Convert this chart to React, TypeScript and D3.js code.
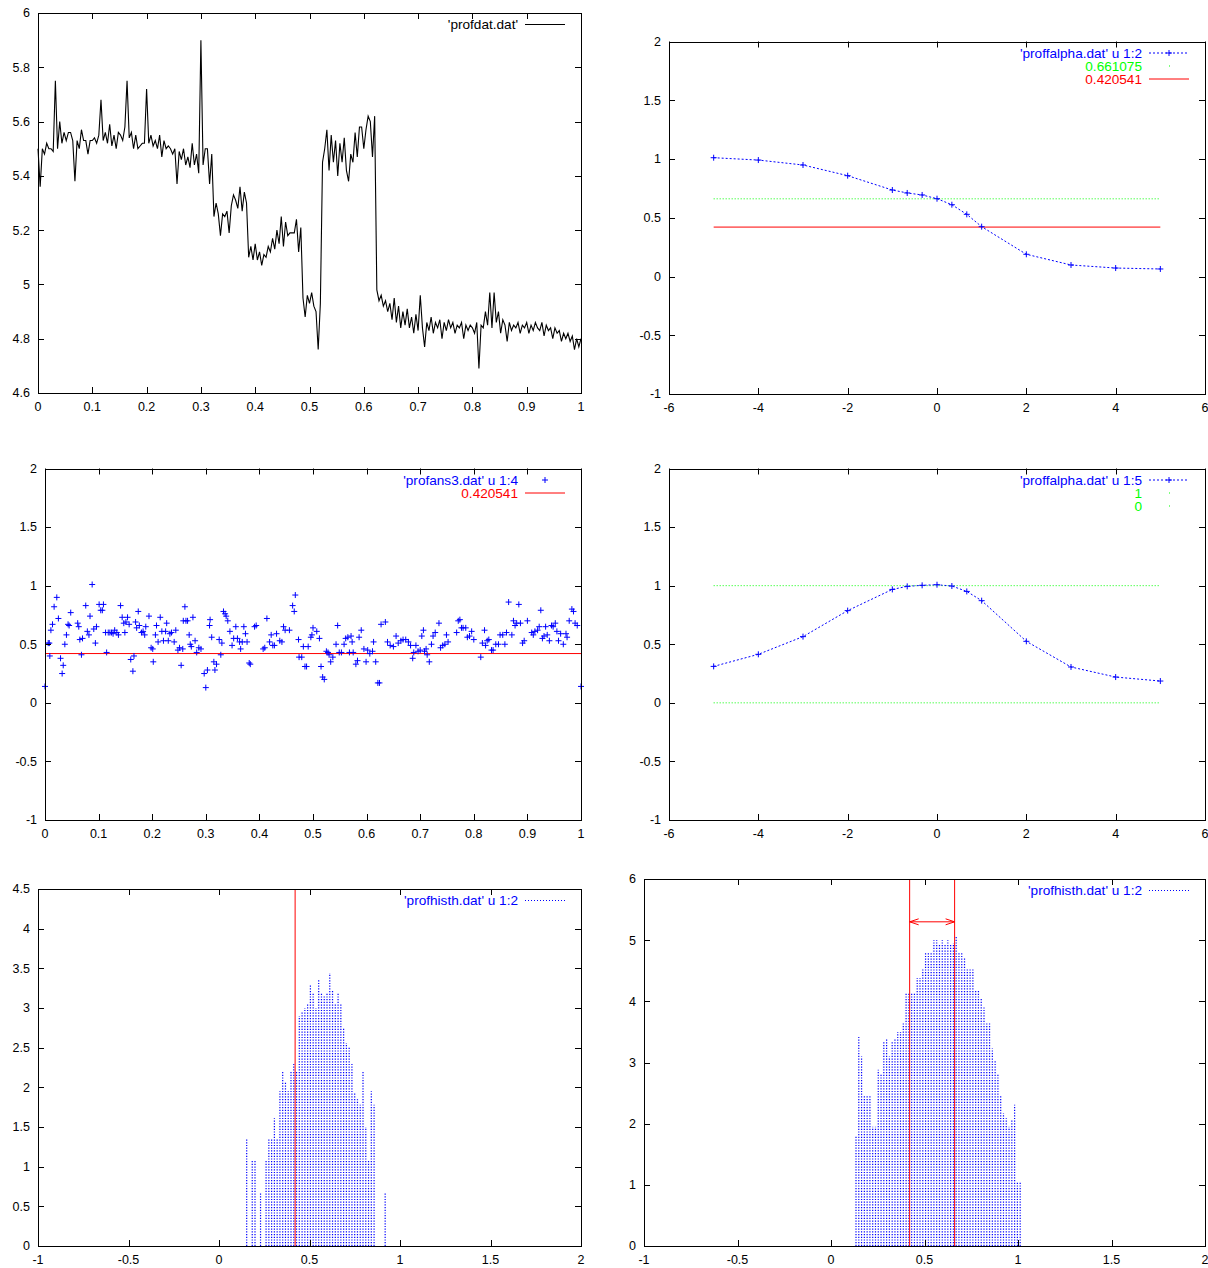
import React from 'react';
import * as d3 from 'd3';

const W = 1208;
const H = 1268;
const FONT = '"Liberation Sans", Arial, Helvetica, sans-serif';
const BLUE = '#0000ff';
const GREEN = '#00ff00';
const RED = '#ff0000';

// ---------- profdat.dat : signal sampled every 0.004 on [0, 1] ----------
const PROF_STEP = 0.004;
const profdat = [
  5.50, 5.36, 5.50, 5.48, 5.52, 5.50, 5.50, 5.49, 5.75, 5.50, 5.60, 5.52, 5.56, 5.53, 5.56, 5.56, 5.53, 5.38, 5.53, 5.50, 5.57, 5.53, 5.53, 5.48, 5.53,
  5.53, 5.54, 5.52, 5.55, 5.68, 5.53, 5.56, 5.52, 5.59, 5.51, 5.55, 5.50, 5.56, 5.55, 5.53, 5.58, 5.75, 5.54, 5.56, 5.50, 5.55, 5.50, 5.51, 5.52, 5.52,
  5.72, 5.52, 5.55, 5.51, 5.53, 5.50, 5.55, 5.47, 5.53, 5.50, 5.51, 5.50, 5.48, 5.50, 5.37, 5.49, 5.46, 5.50, 5.44, 5.47, 5.43, 5.52, 5.44, 5.48, 5.41,
  5.90, 5.44, 5.50, 5.50, 5.37, 5.48, 5.25, 5.30, 5.26, 5.18, 5.26, 5.25, 5.27, 5.19, 5.29, 5.33, 5.31, 5.28, 5.36, 5.27, 5.34, 5.30, 5.10, 5.14, 5.09,
  5.15, 5.09, 5.12, 5.07, 5.11, 5.10, 5.14, 5.12, 5.17, 5.13, 5.20, 5.15, 5.25, 5.14, 5.23, 5.18, 5.19, 5.19, 5.19, 5.24, 5.12, 5.21, 4.95, 4.88, 4.96,
  4.93, 4.97, 4.92, 4.90, 4.76, 4.93, 5.45, 5.50, 5.57, 5.42, 5.55, 5.45, 5.53, 5.40, 5.52, 5.45, 5.54, 5.42, 5.38, 5.48, 5.45, 5.56, 5.47, 5.58, 5.58,
  5.50, 5.57, 5.62, 5.60, 5.47, 5.62, 4.98, 4.94, 4.96, 4.92, 4.94, 4.90, 4.93, 4.87, 4.95, 4.86, 4.92, 4.84, 4.90, 4.85, 4.91, 4.84, 4.88, 4.82, 4.89,
  4.83, 4.96, 4.84, 4.77, 4.86, 4.83, 4.88, 4.82, 4.86, 4.84, 4.87, 4.80, 4.86, 4.83, 4.87, 4.84, 4.86, 4.82, 4.85, 4.84, 4.86, 4.80, 4.85, 4.83, 4.85,
  4.84, 4.82, 4.86, 4.69, 4.85, 4.84, 4.90, 4.85, 4.97, 4.84, 4.97, 4.86, 4.90, 4.82, 4.87, 4.85, 4.79, 4.86, 4.83, 4.85, 4.84, 4.86, 4.82, 4.85, 4.84,
  4.86, 4.82, 4.85, 4.83, 4.86, 4.84, 4.83, 4.86, 4.81, 4.85, 4.83, 4.84, 4.80, 4.84, 4.82, 4.83, 4.79, 4.82, 4.80, 4.82, 4.79, 4.81, 4.76, 4.80, 4.77,
  4.80,
];

// ---------- proffalpha.dat ----------
const alphaX = [-5, -4, -3, -2, -1, -0.667, -0.333, 0, 0.333, 0.667, 1, 2, 3, 4, 5];
const alphaCol2 = [1.011, 0.991, 0.949, 0.858, 0.736, 0.711, 0.694, 0.662, 0.611, 0.529, 0.424, 0.189, 0.098, 0.072, 0.064];
const alphaCol5 = [0.311, 0.414, 0.565, 0.787, 0.968, 0.994, 1.003, 1.008, 0.997, 0.951, 0.872, 0.525, 0.306, 0.220, 0.186];
const LEVEL_HI = 0.661075;
const LEVEL_LO = 0.420541;

// ---------- profans3.dat u 1:4 ----------
const profans3: [number, number][] = [
  [0.0, 0.14], [0.006, 0.51], [0.008, 0.51], [0.009, 0.40], [0.011, 0.62], [0.014, 0.67], [0.017, 0.82], [0.022, 0.90],
  [0.025, 0.72], [0.029, 0.38], [0.032, 0.25], [0.034, 0.32], [0.037, 0.50], [0.040, 0.58], [0.043, 0.67], [0.045, 0.66],
  [0.048, 0.77], [0.061, 0.68], [0.063, 0.65], [0.065, 0.54], [0.068, 0.41], [0.070, 0.55], [0.076, 0.83], [0.079, 0.61],
  [0.082, 0.58], [0.084, 0.74], [0.088, 1.01], [0.091, 0.63], [0.094, 0.51], [0.096, 0.65], [0.101, 0.84], [0.104, 0.79],
  [0.107, 0.79], [0.109, 0.84], [0.113, 0.60], [0.115, 0.43], [0.118, 0.60], [0.121, 0.60], [0.124, 0.60], [0.127, 0.59],
  [0.130, 0.62], [0.134, 0.60], [0.137, 0.58], [0.141, 0.83], [0.144, 0.73], [0.147, 0.68], [0.149, 0.60], [0.151, 0.69],
  [0.154, 0.73], [0.157, 0.67], [0.160, 0.37], [0.164, 0.27], [0.166, 0.40], [0.169, 0.69], [0.171, 0.64], [0.174, 0.78],
  [0.176, 0.66], [0.180, 0.60], [0.183, 0.61], [0.186, 0.58], [0.188, 0.65], [0.194, 0.74], [0.198, 0.47], [0.201, 0.46],
  [0.202, 0.35], [0.206, 0.58], [0.208, 0.66], [0.211, 0.52], [0.215, 0.73], [0.218, 0.61], [0.221, 0.53], [0.225, 0.61],
  [0.227, 0.68], [0.230, 0.53], [0.233, 0.59], [0.236, 0.60], [0.241, 0.52], [0.244, 0.62], [0.248, 0.45], [0.251, 0.47],
  [0.254, 0.32], [0.257, 0.46], [0.258, 0.70], [0.261, 0.82], [0.263, 0.70], [0.266, 0.70], [0.269, 0.58], [0.271, 0.50],
  [0.273, 0.48], [0.276, 0.73], [0.280, 0.53], [0.283, 0.43], [0.287, 0.47], [0.291, 0.46], [0.297, 0.25], [0.300, 0.13],
  [0.303, 0.28], [0.307, 0.66], [0.308, 0.71], [0.311, 0.56], [0.315, 0.35], [0.317, 0.28], [0.320, 0.33], [0.325, 0.54],
  [0.328, 0.41], [0.330, 0.51], [0.333, 0.78], [0.336, 0.76], [0.338, 0.74], [0.341, 0.70], [0.345, 0.61], [0.349, 0.49],
  [0.352, 0.55], [0.356, 0.65], [0.359, 0.55], [0.363, 0.52], [0.365, 0.46], [0.368, 0.52], [0.371, 0.65], [0.374, 0.59],
  [0.377, 0.52], [0.381, 0.34], [0.383, 0.33], [0.391, 0.65], [0.394, 0.66], [0.407, 0.46], [0.410, 0.47], [0.414, 0.72],
  [0.419, 0.52], [0.422, 0.58], [0.425, 0.49], [0.428, 0.49], [0.432, 0.59], [0.438, 0.53], [0.442, 0.52], [0.445, 0.65],
  [0.448, 0.62], [0.456, 0.62], [0.462, 0.83], [0.465, 0.78], [0.467, 0.92], [0.473, 0.54], [0.474, 0.39], [0.479, 0.39],
  [0.482, 0.48], [0.485, 0.31], [0.488, 0.31], [0.491, 0.48], [0.496, 0.56], [0.498, 0.58], [0.500, 0.64], [0.507, 0.61],
  [0.512, 0.55], [0.515, 0.31], [0.518, 0.22], [0.521, 0.20], [0.525, 0.44], [0.528, 0.43], [0.530, 0.41], [0.533, 0.35],
  [0.537, 0.39], [0.543, 0.50], [0.546, 0.66], [0.549, 0.43], [0.553, 0.43], [0.558, 0.50], [0.561, 0.55], [0.565, 0.56],
  [0.568, 0.43], [0.571, 0.57], [0.573, 0.52], [0.575, 0.43], [0.580, 0.33], [0.583, 0.36], [0.586, 0.56], [0.590, 0.62],
  [0.595, 0.46], [0.599, 0.35], [0.602, 0.45], [0.606, 0.42], [0.611, 0.44], [0.613, 0.52], [0.617, 0.35], [0.621, 0.17],
  [0.624, 0.17], [0.627, 0.67], [0.635, 0.69], [0.639, 0.52], [0.644, 0.49], [0.650, 0.48], [0.655, 0.57], [0.659, 0.51],
  [0.664, 0.53], [0.668, 0.54], [0.673, 0.54], [0.678, 0.52], [0.682, 0.49], [0.686, 0.38], [0.688, 0.43], [0.692, 0.49],
  [0.696, 0.44], [0.700, 0.45], [0.703, 0.57], [0.706, 0.62], [0.708, 0.44], [0.711, 0.46], [0.713, 0.41], [0.717, 0.35],
  [0.721, 0.50], [0.724, 0.57], [0.728, 0.60], [0.735, 0.68], [0.738, 0.47], [0.742, 0.49], [0.746, 0.50], [0.749, 0.58],
  [0.752, 0.52], [0.768, 0.60], [0.771, 0.70], [0.774, 0.71], [0.777, 0.64], [0.780, 0.64], [0.785, 0.64], [0.788, 0.56],
  [0.792, 0.57], [0.796, 0.61], [0.800, 0.54], [0.813, 0.39], [0.816, 0.51], [0.820, 0.62], [0.822, 0.49], [0.825, 0.53],
  [0.828, 0.54], [0.833, 0.45], [0.836, 0.45], [0.841, 0.50], [0.846, 0.50], [0.849, 0.58], [0.854, 0.58], [0.858, 0.50],
  [0.861, 0.60], [0.865, 0.86], [0.871, 0.58], [0.874, 0.70], [0.877, 0.66], [0.880, 0.68], [0.884, 0.84], [0.887, 0.68],
  [0.891, 0.51], [0.894, 0.53], [0.900, 0.70], [0.908, 0.60], [0.911, 0.58], [0.914, 0.61], [0.919, 0.62], [0.922, 0.65],
  [0.925, 0.79], [0.928, 0.55], [0.931, 0.57], [0.934, 0.65], [0.937, 0.58], [0.941, 0.53], [0.945, 0.66], [0.948, 0.65],
  [0.952, 0.68], [0.955, 0.61], [0.958, 0.53], [0.962, 0.59], [0.967, 0.50], [0.972, 0.59], [0.974, 0.56], [0.978, 0.70],
  [0.983, 0.80], [0.986, 0.78], [0.989, 0.68], [0.993, 0.66], [1.0, 0.14],
];

// ---------- profhisth.dat u 1:2 (two runs) ----------
const HIST_A_START = 0.153;
const HIST_A_BIN = 0.0153;
const histA = [
  1.36, 0, 1.09, 1.09, 0, 0.67, 0, 1.09, 1.36, 1.36, 1.61, 1.36, 1.95, 2.2, 2.06, 1.95, 2.2, 2.31, 2.2, 2.9,
  2.95, 3.0, 3.05, 3.29, 3.2, 3.0, 3.37, 3.2, 3.15, 3.2, 3.44, 3.22, 3.06, 3.2, 3.06, 2.75, 2.56, 2.5, 2.3, 1.93,
  1.85, 1.78, 2.2, 1.5, 1.09, 1.95, 1.78, 0, 0, 0, 0.67,
];
const HIST_B_START = 0.1337;
const HIST_B_BIN = 0.01488;
const histB = [
  1.79, 3.42, 3.1, 2.47, 2.47, 2.47, 1.95, 1.95, 2.88, 2.82, 3.33, 3.4, 3.1, 3.33, 3.4, 3.5, 3.5, 3.64, 4.13, 4.13,
  4.13, 4.15, 4.38, 4.38, 4.54, 4.81, 4.81, 4.81, 5.0, 5.0, 4.92, 5.0, 4.92, 5.0, 4.92, 4.95, 5.07, 4.81, 4.81, 4.7,
  4.54, 4.54, 4.54, 4.18, 4.18, 4.05, 3.9, 3.64, 3.64, 3.23, 3.04, 2.82, 2.47, 2.17, 2.09, 1.95, 2.06, 2.31, 1.05, 1.05,
];
const ARROW_Y = 5.3;

// ---------- tick values ----------
const ticksUnit = [0, 0.1, 0.2, 0.3, 0.4, 0.5, 0.6, 0.7, 0.8, 0.9, 1];
const ticksProf = [4.6, 4.8, 5, 5.2, 5.4, 5.6, 5.8, 6];
const ticksAlphaX = [-6, -4, -2, 0, 2, 4, 6];
const ticksAlphaY = [-1, -0.5, 0, 0.5, 1, 1.5, 2];
const ticksHistX = [-1, -0.5, 0, 0.5, 1, 1.5, 2];
const ticksHistAY = [0, 0.5, 1, 1.5, 2, 2.5, 3, 3.5, 4, 4.5];
const ticksHistBY = [0, 1, 2, 3, 4, 5, 6];

type Box = { left: number; right: number; top: number; bottom: number };

const P1: Box = { left: 38, right: 581, top: 13, bottom: 393 };
const P2: Box = { left: 669, right: 1205, top: 41.5, bottom: 394 };
const P3: Box = { left: 45, right: 581, top: 468.5, bottom: 820 };
const P4: Box = { left: 669, right: 1205, top: 468.5, bottom: 820 };
const P5: Box = { left: 38, right: 581, top: 889, bottom: 1246 };
const P6: Box = { left: 644, right: 1205, top: 879, bottom: 1246 };

const fmt = (v: number) => String(+v.toFixed(6));
const crisp = (v: number) => Math.round(v) + 0.5;

function scales(box: Box, xd: [number, number], yd: [number, number]) {
  const x = d3.scaleLinear().domain(xd).range([box.left, box.right]);
  const y = d3.scaleLinear().domain(yd).range([box.bottom, box.top]);
  return { x, y };
}

function Frame({ box, x, y, xTicks, yTicks }: any) {
  const tl = 6;
  return (
    <g fontFamily={FONT} fontSize={12.5} fill="#000">
      {xTicks.map((t: number) => {
        const px = crisp(x(t));
        return (
          <g key={'x' + t}>
            <line x1={px} x2={px} y1={box.bottom} y2={box.bottom - tl} stroke="#000" />
            <line x1={px} x2={px} y1={box.top} y2={box.top + tl} stroke="#000" />
            <text x={x(t)} y={box.bottom + 17.5} textAnchor="middle">{fmt(t)}</text>
          </g>
        );
      })}
      {yTicks.map((t: number) => {
        const py = crisp(y(t));
        return (
          <g key={'y' + t}>
            <line x1={box.left} x2={box.left + tl} y1={py} y2={py} stroke="#000" />
            <line x1={box.right} x2={box.right - tl} y1={py} y2={py} stroke="#000" />
            <text x={box.left - 8} y={y(t) + 4.4} textAnchor="end">{fmt(t)}</text>
          </g>
        );
      })}
      <rect
        x={crisp(box.left)}
        y={crisp(box.top)}
        width={Math.round(box.right) - Math.round(box.left)}
        height={Math.round(box.bottom) - Math.round(box.top)}
        fill="none"
        stroke="#000"
      />
    </g>
  );
}

function plus(cx: number, cy: number, r = 3) {
  return `M${cx - r},${cy}H${cx + r}M${cx},${cy - r}V${cy + r}`;
}

type Entry = { label: string; color: string; kind: 'line' | 'dotted' | 'linepoint' | 'point' | 'dot' | 'impulse' };

function Legend({ box, entries }: { box: Box; entries: Entry[] }) {
  const textEnd = box.right - 63;
  const s0 = box.right - 56;
  const s1 = box.right - 16;
  const mid = (s0 + s1) / 2;
  return (
    <g fontFamily={FONT} fontSize={13.6}>
      {entries.map((e, i) => {
        const cy = box.top + 11.5 + 13 * i;
        return (
          <g key={i}>
            <text x={textEnd} y={cy + 4.7} textAnchor="end" fill={e.color}>{e.label}</text>
            {e.kind === 'line' && <line x1={s0} x2={s1} y1={cy} y2={cy} stroke={e.color} />}
            {e.kind === 'linepoint' && (
              <g stroke={e.color}>
                <line x1={s0} x2={s1} y1={cy} y2={cy} strokeDasharray="2,2" />
                <path d={plus(mid, cy)} fill="none" />
              </g>
            )}
            {e.kind === 'point' && <path d={plus(mid, cy)} stroke={e.color} fill="none" />}
            {e.kind === 'dot' && <rect x={mid} y={cy - 0.5} width={1} height={1} fill={e.color} />}
            {e.kind === 'impulse' && (
              <line x1={s0} x2={s1} y1={cy} y2={cy} stroke={e.color} strokeDasharray="1,2" />
            )}
          </g>
        );
      })}
    </g>
  );
}

function PanelProf() {
  const { x, y } = scales(P1, [0, 1], [4.6, 6]);
  const line = d3
    .line<number>()
    .x((_, i) => x(i * PROF_STEP))
    .y((d) => y(d));
  return (
    <g>
      <path d={line(profdat) || ''} fill="none" stroke="#000" strokeWidth={1.1} />
      <Frame box={P1} x={x} y={y} xTicks={ticksUnit} yTicks={ticksProf} />
      <Legend box={P1} entries={[{ label: "'profdat.dat'", color: '#000', kind: 'line' }]} />
    </g>
  );
}

function PanelAlpha({ box, values, levels, legend }: any) {
  const { x, y } = scales(box, [-6, 6], [-1, 2]);
  const line = d3
    .line<number>()
    .x((_, i) => x(alphaX[i]))
    .y((d) => y(d));
  const x0 = x(alphaX[0]);
  const x1 = x(alphaX[alphaX.length - 1]);
  return (
    <g>
      {levels.map((lv: any, i: number) => (
        <line
          key={i}
          x1={x0}
          x2={x1}
          y1={y(lv.value)}
          y2={y(lv.value)}
          stroke={lv.color}
          strokeDasharray={lv.dotted ? '1,2' : undefined}
        />
      ))}
      <path d={line(values) || ''} fill="none" stroke={BLUE} strokeDasharray="2,2" />
      {values.map((v: number, i: number) => (
        <path key={i} d={plus(x(alphaX[i]), y(v))} stroke={BLUE} fill="none" />
      ))}
      <Frame box={box} x={x} y={y} xTicks={ticksAlphaX} yTicks={ticksAlphaY} />
      <Legend box={box} entries={legend} />
    </g>
  );
}

function PanelAns() {
  const { x, y } = scales(P3, [0, 1], [-1, 2]);
  return (
    <g>
      <line x1={x(0)} x2={x(1)} y1={y(LEVEL_LO)} y2={y(LEVEL_LO)} stroke={RED} />
      {profans3.map(([a, b], i) => (
        <path key={i} d={plus(x(a), y(b))} stroke={BLUE} fill="none" />
      ))}
      <Frame box={P3} x={x} y={y} xTicks={ticksUnit} yTicks={ticksAlphaY} />
      <Legend
        box={P3}
        entries={[
          { label: "'profans3.dat' u 1:4", color: BLUE, kind: 'point' },
          { label: '0.420541', color: RED, kind: 'line' },
        ]}
      />
    </g>
  );
}

function PanelHist({ box, yMax, yTicks, heights, start, bin, marks, arrow }: any) {
  const { x, y } = scales(box, [-1, 2], [0, yMax]);
  return (
    <g>
      {heights.map((h: number, i: number) =>
        h > 0 ? (
          <line
            key={i}
            x1={x(start + i * bin)}
            x2={x(start + i * bin)}
            y1={y(0)}
            y2={y(h)}
            stroke={BLUE}
            strokeWidth={1.2}
            strokeDasharray="1.2,1.5"
          />
        ) : null
      )}
      {marks.map((m: number, i: number) => (
        <line key={i} x1={x(m)} x2={x(m)} y1={y(0)} y2={y(yMax)} stroke={RED} />
      ))}
      {arrow && (
        <g stroke={RED} fill="none">
          <line x1={x(marks[0])} x2={x(marks[1])} y1={y(ARROW_Y)} y2={y(ARROW_Y)} />
          <path
            d={`M${x(marks[0]) + 9},${y(ARROW_Y) - 3}L${x(marks[0])},${y(ARROW_Y)}L${x(marks[0]) + 9},${y(ARROW_Y) + 3}`}
          />
          <path
            d={`M${x(marks[1]) - 9},${y(ARROW_Y) - 3}L${x(marks[1])},${y(ARROW_Y)}L${x(marks[1]) - 9},${y(ARROW_Y) + 3}`}
          />
        </g>
      )}
      <Frame box={box} x={x} y={y} xTicks={ticksHistX} yTicks={yTicks} />
      <Legend box={box} entries={[{ label: "'profhisth.dat' u 1:2", color: BLUE, kind: 'impulse' }]} />
    </g>
  );
}

export default function App() {
  return (
    <svg
      width={W}
      height={H}
      viewBox={`0 0 ${W} ${H}`}
      style={{ position: 'absolute', left: 0, top: 0, background: '#fff' }}
    >
      <rect x={0} y={0} width={W} height={H} fill="#fff" />
      <PanelProf />
      <PanelAlpha
        box={P2}
        values={alphaCol2}
        levels={[
          { value: LEVEL_HI, color: GREEN, dotted: true },
          { value: LEVEL_LO, color: RED, dotted: false },
        ]}
        legend={[
          { label: "'proffalpha.dat' u 1:2", color: BLUE, kind: 'linepoint' },
          { label: '0.661075', color: GREEN, kind: 'dot' },
          { label: '0.420541', color: RED, kind: 'line' },
        ]}
      />
      <PanelAns />
      <PanelAlpha
        box={P4}
        values={alphaCol5}
        levels={[
          { value: 1, color: GREEN, dotted: true },
          { value: 0, color: GREEN, dotted: true },
        ]}
        legend={[
          { label: "'proffalpha.dat' u 1:5", color: BLUE, kind: 'linepoint' },
          { label: '1', color: GREEN, kind: 'dot' },
          { label: '0', color: GREEN, kind: 'dot' },
        ]}
      />
      <PanelHist
        box={P5}
        yMax={4.5}
        yTicks={ticksHistAY}
        heights={histA}
        start={HIST_A_START}
        bin={HIST_A_BIN}
        marks={[LEVEL_LO]}
        arrow={false}
      />
      <PanelHist
        box={P6}
        yMax={6}
        yTicks={ticksHistBY}
        heights={histB}
        start={HIST_B_START}
        bin={HIST_B_BIN}
        marks={[LEVEL_LO, LEVEL_HI]}
        arrow={true}
      />
    </svg>
  );
}
